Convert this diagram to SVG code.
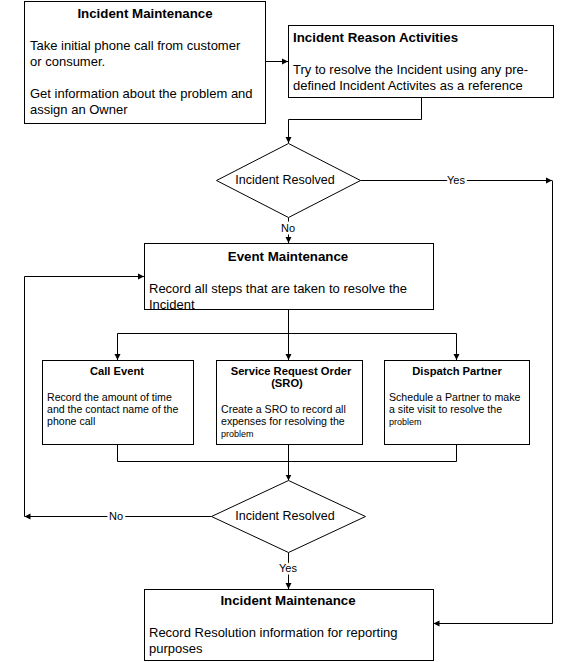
<svg xmlns="http://www.w3.org/2000/svg" width="576" height="662" viewBox="0 0 576 662">
<defs>
<marker id="ah" markerUnits="userSpaceOnUse" markerWidth="7" markerHeight="7" refX="6" refY="3.5" orient="auto">
<path d="M0,0.5 L6,3.5 L0,6.5 z" fill="#000"/>
</marker>
<style>
.box{fill:#fff;stroke:#000;stroke-width:1}
.dia{fill:#fff;stroke:#000;stroke-width:1}
.c{fill:none;stroke:#000;stroke-width:1}
.t{font-family:"Liberation Sans",Arial,sans-serif;font-size:13px;fill:#000}
.b{font-weight:bold;font-size:13.3px}
.d{font-size:12.5px}
.s{font-size:10.6px}
.sb{font-size:11.2px;font-weight:bold}
.xs{font-size:9px}
.m{text-anchor:middle}
.lab{font-family:"Liberation Sans",Arial,sans-serif;font-size:11px;fill:#000;text-anchor:middle;stroke:#fff;stroke-width:5px;paint-order:stroke;stroke-linejoin:round}
</style>
</defs>
<rect width="576" height="662" fill="#fff"/>
<g id="connectors">
<path class="c" d="M265.5,61.5 H288" marker-end="url(#ah)"/>
<path class="c" d="M421.5,97.5 V119.5 H288.5 V143" marker-end="url(#ah)"/>
<path class="c" d="M360.5,180.5 H552" marker-end="url(#ah)"/>
<path class="c" d="M552.5,180.5 V623.5 H433.5" marker-end="url(#ah)"/>
<path class="c" d="M288.5,217.5 V243" marker-end="url(#ah)"/>
<path class="c" d="M288.5,309.5 V360" marker-end="url(#ah)"/>
<path class="c" d="M117.5,360 V333.5 H456.5 V360" />
<path class="c" d="M117.5,334 V360" marker-end="url(#ah)"/>
<path class="c" d="M456.5,334 V360" marker-end="url(#ah)"/>
<path class="c" d="M117.5,444.5 V461.5 H456.5 V444.5"/>
<path class="c" d="M288.5,444.5 V480.5" marker-end="url(#ah)"/>
<path class="c" d="M211.5,516.5 H24.5" marker-end="url(#ah)"/>
<path class="c" d="M24.5,516.5 V276.5 H144" marker-end="url(#ah)"/>
<path class="c" d="M288.5,552.5 V589" marker-end="url(#ah)"/>
<text class="lab" x="456" y="184">Yes</text>
<text class="lab" x="288" y="232">No</text>
<text class="lab" x="116" y="520">No</text>
<text class="lab" x="288" y="572">Yes</text>
</g>
<g id="incident-maintenance-1">
<rect class="box" x="24.5" y="1.5" width="241" height="122"/>
<text class="t b m" x="145" y="18">Incident Maintenance</text>
<text class="t" x="30" y="50">Take initial phone call from customer</text>
<text class="t" x="30" y="66">or consumer.</text>
<text class="t" x="30" y="98">Get information about the problem and</text>
<text class="t" x="30" y="114">assign an Owner</text>
</g>
<g id="incident-reason-activities">
<rect class="box" x="288.5" y="25.5" width="265" height="72"/>
<text class="t b" x="293" y="42">Incident Reason Activities</text>
<text class="t" x="293" y="74">Try to resolve the Incident using any pre-</text>
<text class="t" x="293" y="90">defined Incident Activites as a reference</text>
</g>
<g id="decision-1">
<polygon class="dia" points="288.5,143.5 360.5,180.5 288.5,217.5 216.5,180.5"/>
<text class="t d m" x="285" y="184">Incident Resolved</text>
</g>
<g id="event-maintenance">
<rect class="box" x="144.5" y="243.5" width="289" height="66"/>
<text class="t b m" x="288" y="261">Event Maintenance</text>
<text class="t" x="149" y="293">Record all steps that are taken to resolve the</text>
<text class="t" x="149" y="309">Incident</text>
</g>
<g id="call-event">
<rect class="box" x="42.5" y="360.5" width="151" height="84"/>
<text class="t sb m" x="117" y="375">Call Event</text>
<text class="t s" x="47" y="401">Record the amount of time</text>
<text class="t s" x="47" y="413">and the contact name of the</text>
<text class="t s" x="47" y="425">phone call</text>
</g>
<g id="service-request-order">
<rect class="box" x="216.5" y="360.5" width="146" height="84"/>
<text class="t sb m" x="291" y="375">Service Request Order</text>
<text class="t sb m" x="287" y="387">(SRO)</text>
<text class="t s" x="221" y="413">Create a SRO to record all</text>
<text class="t s" x="221" y="425">expenses for resolving the</text>
<text class="t xs" x="221" y="437">problem</text>
</g>
<g id="dispatch-partner">
<rect class="box" x="384.5" y="360.5" width="145" height="84"/>
<text class="t sb m" x="457" y="375">Dispatch Partner</text>
<text class="t s" x="389" y="401">Schedule a Partner to make</text>
<text class="t s" x="389" y="413">a site visit to resolve the</text>
<text class="t xs" x="389" y="425">problem</text>
</g>
<g id="decision-2">
<polygon class="dia" points="288.5,480.5 365.5,516.5 288.5,552.5 211.5,516.5"/>
<text class="t d m" x="285" y="520">Incident Resolved</text>
</g>
<g id="incident-maintenance-2">
<rect class="box" x="144.5" y="589.5" width="289" height="71"/>
<text class="t b m" x="288" y="605">Incident Maintenance</text>
<text class="t" x="149" y="637">Record Resolution information for reporting</text>
<text class="t" x="149" y="653">purposes</text>
</g>
</svg>
